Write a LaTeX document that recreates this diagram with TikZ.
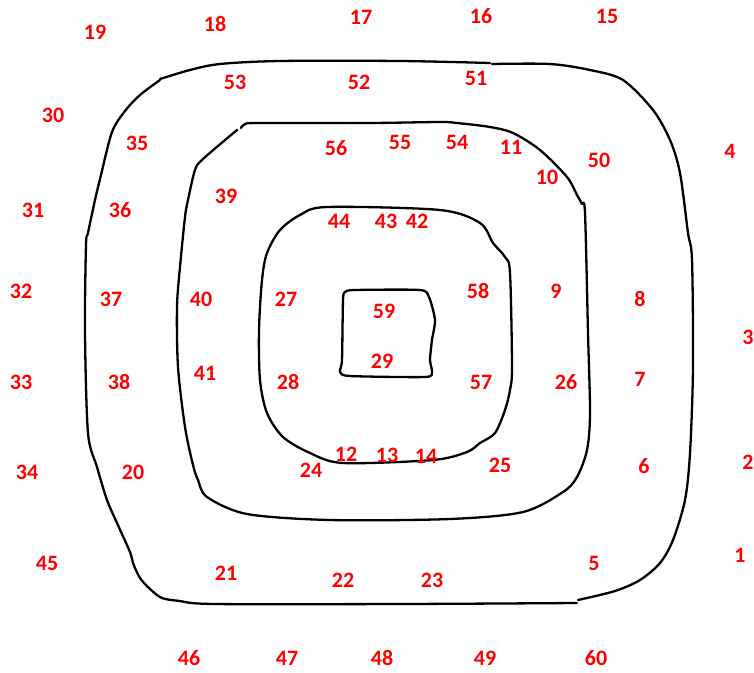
\documentclass[tikz,border=0pt]{standalone}
\usepackage{fontspec}
\setmainfont{Carlito}
\definecolor{lblred}{RGB}{255,0,0}
\begin{document}
\begin{tikzpicture}[x=1pt,y=-1pt,
  lbl/.style={text=lblred,font=\bfseries\fontsize{22}{22}\selectfont,inner sep=0pt,anchor=center},
  curve/.style={line width=2.3pt,line cap=round,line join=round,black}]
\useasboundingbox (0,0) rectangle (754,672);
% outer curve
\draw[curve] plot[smooth,tension=0.5] coordinates {(160,79) (190,70) (220,64) (280,61) (400,61) (490,63)};
\draw[curve] plot[smooth,tension=0.5] coordinates {(492,64) (550,64) (590,70) (623,80) (653,110) (670,140) (680,173) (688,233) (692,260) (693,367) (690,453) (685,500) (673,540) (660,563) (640,580) (615,591) (578,600)};
\draw[curve] plot[smooth,tension=0.5] coordinates {(577,603) (400,604) (215,604) (180,601) (162,598) (150,589) (140,578) (133,563) (130,552) (117,523) (107,500) (97,467) (88,433) (85,333) (86,245) (88,233) (95,200) (101,175) (112,132) (125,111) (140,95) (160,80)};
% second ring
\draw[curve] plot[smooth,tension=0.5] coordinates {(241,128) (245,124) (260,123) (370,123) (440,122) (457,123) (490,127) (513,133) (540,150) (567,177) (577,195) (582,204) (585,213) (588,333) (590,413) (587,450) (577,477) (563,492) (523,512) (450,519) (330,520) (247,514) (207,497) (198,480) (193,465) (185,427) (178,367) (177,307) (180,267) (185,217) (188,200) (195,170) (203,159) (237,130)};
% third ring
\draw[curve] plot[smooth cycle,tension=0.5] coordinates {(327,207) (440,210) (480,223) (493,243) (505,257) (510,273) (512,367) (510,390) (505,410) (495,433) (480,443) (467,452) (433,460) (343,463) (310,453) (283,437) (267,413) (260,380) (259,330) (262,280) (267,253) (280,230) (300,215)};
% inner box
\draw[curve] plot[smooth cycle,tension=0.4] coordinates {(345,292) (355,290) (420,290) (429,297) (435,320) (432,340) (430,360) (432,372) (425,377) (350,376) (340,372) (342,360) (343,300)};
% labels
\node[lbl] (n19) at (95,32) {19};
\node[lbl] (n18) at (215,24) {18};
\node[lbl] (n17) at (361,17) {17};
\node[lbl] (n16) at (481,16) {16};
\node[lbl] (n15) at (607,16) {15};
\node[lbl] (n53) at (235,82) {53};
\node[lbl] (n52) at (359,82) {52};
\node[lbl] (n51) at (476,78) {51};
\node[lbl] (n30) at (53,115) {30};
\node[lbl] (n35) at (137,143) {35};
\node[lbl] (n56) at (336,148) {56};
\node[lbl] (n55) at (400,142) {55};
\node[lbl] (n54) at (457,142) {54};
\node[lbl] (n11) at (511,147) {11};
\node[lbl] (n50) at (599,160) {50};
\node[lbl] (n4) at (730,151) {4};
\node[lbl] (n10) at (547,177) {10};
\node[lbl] (n31) at (33,210) {31};
\node[lbl] (n36) at (120,210) {36};
\node[lbl] (n39) at (226,196) {39};
\node[lbl] (n44) at (339,221) {44};
\node[lbl] (n43) at (386,221) {43};
\node[lbl] (n42) at (417,221) {42};
\node[lbl] (n32) at (21,291) {32};
\node[lbl] (n37) at (111,299) {37};
\node[lbl] (n40) at (201,299) {40};
\node[lbl] (n27) at (286,299) {27};
\node[lbl] (n59) at (384,311) {59};
\node[lbl] (n58) at (478,291) {58};
\node[lbl] (n9) at (556,291) {9};
\node[lbl] (n8) at (640,299) {8};
\node[lbl] (n3) at (748,337) {3};
\node[lbl] (n33) at (21,382) {33};
\node[lbl] (n38) at (119,382) {38};
\node[lbl] (n41) at (205,373) {41};
\node[lbl] (n28) at (288,382) {28};
\node[lbl] (n29) at (382,361) {29};
\node[lbl] (n57) at (481,382) {57};
\node[lbl] (n26) at (566,382) {26};
\node[lbl] (n7) at (640,379) {7};
\node[lbl] (n34) at (27,472) {34};
\node[lbl] (n20) at (133,472) {20};
\node[lbl] (n12) at (346,454) {12};
\node[lbl] (n13) at (387,455) {13};
\node[lbl] (n14) at (426,456) {14};
\node[lbl] (n24) at (311,470) {24};
\node[lbl] (n25) at (500,465) {25};
\node[lbl] (n6) at (644,466) {6};
\node[lbl] (n2) at (748,462) {2};
\node[lbl] (n45) at (47,563) {45};
\node[lbl] (n21) at (226,573) {21};
\node[lbl] (n22) at (343,580) {22};
\node[lbl] (n23) at (432,580) {23};
\node[lbl] (n5) at (594,563) {5};
\node[lbl] (n1) at (740,555) {1};
\node[lbl] (n46) at (189,658) {46};
\node[lbl] (n47) at (287,658) {47};
\node[lbl] (n48) at (382,658) {48};
\node[lbl] (n49) at (485,658) {49};
\node[lbl] (n60) at (596,658) {60};
\end{tikzpicture}
\end{document}
